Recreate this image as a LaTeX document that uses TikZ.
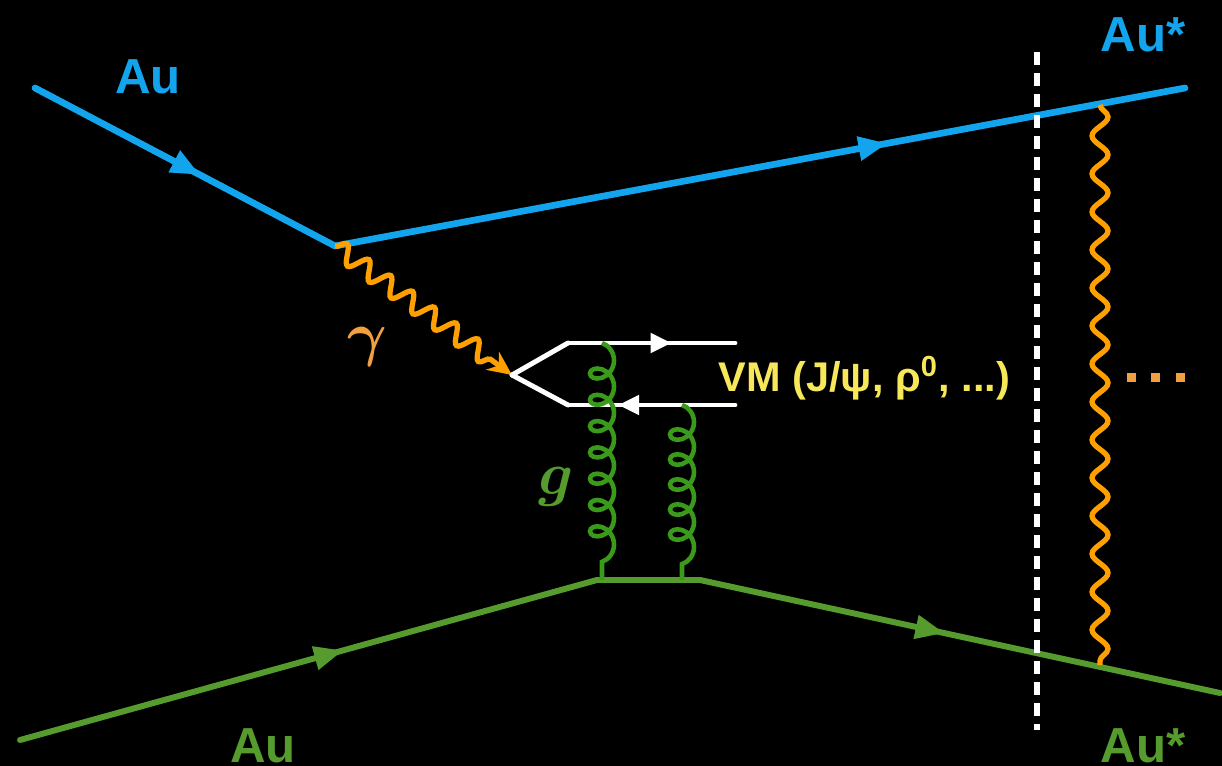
\documentclass[tikz,border=0pt]{standalone}
\usepackage{fontspec}
\setsansfont{Liberation Sans}
\usetikzlibrary{arrows.meta,decorations.markings,decorations.pathmorphing}
\definecolor{AuBlue}{HTML}{12A5EE}
\definecolor{AuGreen}{HTML}{559B2D}
\definecolor{GluonGreen}{HTML}{3A9A1A}
\definecolor{PhotonOrange}{HTML}{FFA000}
\definecolor{LabelOrange}{HTML}{F0A040}
\definecolor{VMYellow}{HTML}{F7E85A}

\begin{document}
\begin{tikzpicture}[every node/.style={font=\fontsize{14}{16}\selectfont\sffamily\bfseries,inner sep=0pt},
  fermion/.style={line cap=round,postaction={decorate},decoration={markings,mark=at position #1 with {\arrow{Triangle[length=2.9mm,width=2.3mm]}}}},
  quark/.style={white,line width=1.4pt,line cap=round,postaction={decorate},decoration={markings,mark=at position #1 with {\arrow{Triangle[length=2.1mm,width=1.9mm]}}}},
  photon/.style={PhotonOrange,line width=1.5pt,decorate,decoration={snake,amplitude=0.9mm,segment length=2.7mm,post length=1.5mm},-{Stealth[length=2.4mm,width=2.2mm]}},
  gluon/.style={GluonGreen,line width=1.3pt,decorate,decoration={coil,amplitude=1.2mm,segment length=#1,aspect=0.9}},
  wave/.style={PhotonOrange,line width=1.5pt,decorate,decoration={snake,amplitude=0.8mm,segment length=3.8mm}},
  cut/.style={white,line width=1.5pt,dash pattern=on 1.3mm off 0.8mm}]
  \path[use as bounding box,fill=black] (0,0) rectangle (12.22,-7.66);

  \coordinate (auin) at (0.35,-0.88);
  \coordinate (upv) at (3.35,-2.46);
  \coordinate (auout) at (11.85,-0.88);
  \coordinate (lowin) at (0.20,-7.40);
  \coordinate (lowl) at (5.97,-5.80);
  \coordinate (lowr) at (7.00,-5.80);
  \coordinate (lowout) at (12.20,-6.93);
  \coordinate (qv) at (5.12,-3.75);
  \coordinate (qup) at (5.68,-3.43);
  \coordinate (qupend) at (7.35,-3.43);
  \coordinate (qlow) at (5.68,-4.05);
  \coordinate (qlowend) at (7.35,-4.05);
  \coordinate (cuttop) at (10.37,-0.52);
  \coordinate (cutbot) at (10.37,-7.30);
  \coordinate (wtop) at (11.00,-1.05);
  \coordinate (wbot) at (11.00,-6.65);

  \draw[fermion=0.55,AuBlue,line width=1.9pt] (auin) -- (upv);
  \draw[fermion=0.65,AuBlue,line width=1.9pt] (upv) -- (auout);
  \draw[fermion=0.56,AuGreen,line width=1.7pt] (lowin) -- (lowl);
  \draw[AuGreen,line width=1.7pt,line cap=round] (lowl) -- (lowr);
  \draw[fermion=0.47,AuGreen,line width=1.7pt] (lowr) -- (lowout);

  \draw[photon] (upv) -- (qv);
  \draw[white,line width=1.4pt,line cap=round] (qv) -- (qup);
  \draw[quark=0.62] (qup) -- (qupend);
  \draw[white,line width=1.4pt,line cap=round] (qv) -- (qlow);
  \draw[quark=0.7] (qlowend) -- (qlow);

  \draw[gluon=2.63mm] (6.02,-3.43) -- (6.02,-5.80);
  \draw[gluon=2.5mm] (6.82,-4.05) -- (6.82,-5.80);

  \draw[cut] (cuttop) -- (cutbot);
  \draw[wave] (wtop) -- (wbot);
  \foreach \x in {11.31,11.55,11.80}
    \fill[LabelOrange] (\x-0.045,-3.825) rectangle (\x+0.045,-3.735);

  \node[AuBlue] (auinlabel) at (1.48,-0.77) {Au};
  \node[AuBlue] (auoutlabel) at (11.43,-0.35) {Au*};
  \node[AuGreen] (lowinlabel) at (2.63,-7.46) {Au};
  \node[AuGreen] (lowoutlabel) at (11.43,-7.46) {Au*};
  \node[LabelOrange,font=\fontsize{18}{20}\selectfont\boldmath] (gammalabel) at (3.67,-3.47) {$\gamma$};
  \node[AuGreen,font=\fontsize{17}{20}\selectfont\boldmath] (glabel) at (5.56,-4.87) {$g$};
  \node[VMYellow,anchor=west,font=\fontsize{11.8}{14}\selectfont\sffamily\bfseries] (vmlabel) at (7.18,-3.78) {VM (J/ψ, ρ\textsuperscript{0}, ...)};
\end{tikzpicture}
\end{document}
